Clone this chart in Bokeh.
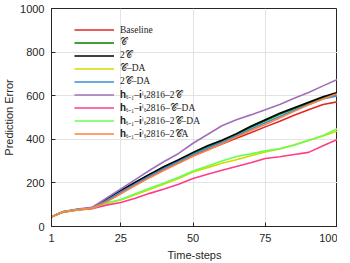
from bokeh.plotting import figure
from bokeh.models import Legend, LegendItem, FixedTicker, ColumnDataSource
from bokeh.embed import file_html
from bokeh.resources import INLINE

x = [1, 5, 10, 15, 20, 25, 30, 35, 40, 45, 50, 55, 60, 65, 70, 75, 80, 85, 90, 95, 100]

baseline = [45, 66, 77, 84, 115, 155, 192, 228, 262, 292, 325, 352, 378, 405, 430, 457, 483, 510, 535, 560, 572]
c_ser    = [45, 67, 78, 85, 122, 162, 200, 236, 270, 302, 335, 365, 392, 422, 455, 485, 515, 540, 565, 590, 605]
two_c    = [45, 68, 78, 85, 125, 165, 203, 240, 275, 306, 340, 370, 396, 426, 460, 490, 520, 545, 570, 595, 615]
c_da     = [45, 66, 76, 83, 105, 122, 146, 170, 195, 220, 250, 270, 290, 306, 325, 342, 356, 375, 395, 415, 438]
two_c_da = [45, 67, 77, 84, 120, 158, 195, 232, 266, 298, 330, 360, 386, 415, 447, 476, 505, 533, 560, 585, 600]
h_2c     = [45, 69, 80, 88, 130, 172, 215, 258, 298, 335, 382, 422, 462, 490, 512, 536, 560, 588, 615, 645, 675]
h_c_da   = [45, 66, 76, 82, 98, 110, 130, 152, 172, 194, 220, 240, 258, 275, 292, 312, 320, 330, 340, 370, 400]
h_2c_da  = [45, 67, 77, 84, 108, 124, 150, 175, 200, 226, 255, 278, 300, 321, 333, 347, 357, 373, 395, 417, 449]
h_2ca    = [45, 66, 76, 83, 112, 150, 188, 224, 258, 290, 322, 350, 380, 410, 440, 468, 498, 528, 558, 585, 609]

labels = ["Baseline", "𝒞", "2𝒞", "𝒞–DA", "2𝒞–DA",
          "𝐡ₜ₋₁–𝐢ⁱₜ2816–2𝒞", "𝐡ₜ₋₁–𝐢ⁱₜ2816–𝒞–DA",
          "𝐡ₜ₋₁–𝐢ⁱₜ2816–2𝒞–DA", "𝐡ₜ₋₁–𝐢ⁱₜ2816–2𝒞A"]
series = [baseline, c_ser, two_c, c_da, two_c_da, h_2c, h_c_da, h_2c_da, h_2ca]
colors = ["#e02828", "#008000", "#000000", "#d8d800", "#3a90d6",
          "#a070b8", "#ff3c8c", "#66ff55", "#ff8040"]

x_ticks = [1, 25, 50, 75, 100]
y_ticks = [0, 200, 400, 600, 800, 1000]

p = figure(frame_width=286, frame_height=218, output_backend="svg", toolbar_location=None,
           x_range=(1, 100), y_range=(0, 1000),
           min_border_left=40, min_border_right=0, min_border_top=8, min_border_bottom=0)

axis_color = "#262626"
p.xaxis.ticker = FixedTicker(ticks=x_ticks)
p.yaxis.ticker = FixedTicker(ticks=y_ticks)
for ax in (p.xaxis[0], p.yaxis[0]):
    ax.axis_line_color = axis_color
    ax.axis_line_width = 1
    ax.major_tick_line_color = axis_color
    ax.major_tick_in = 4
    ax.major_tick_out = 0
    ax.minor_tick_line_color = None
    ax.major_label_text_font = "Liberation Sans"
    ax.major_label_text_font_size = "11px"
    ax.major_label_text_color = axis_color
    ax.axis_label_text_font = "Liberation Sans"
    ax.axis_label_text_font_size = "11px"
    ax.axis_label_text_font_style = "normal"
    ax.axis_label_text_color = axis_color
p.xaxis.axis_label = "Time-steps"
p.yaxis.axis_label = "Prediction Error"
p.xaxis.major_label_standoff = 7
p.xaxis.axis_label_standoff = 4
p.yaxis.major_label_standoff = 7
p.yaxis.axis_label_standoff = 2

p.xgrid.grid_line_color = "#e3e3e3"
p.ygrid.grid_line_color = "#e3e3e3"
p.outline_line_color = axis_color

items = []
for lab, ys, col in zip(labels, series, colors):
    src = ColumnDataSource(dict(x=x, y=ys))
    r = p.line("x", "y", source=src, line_color=col, line_width=1.6)
    items.append(LegendItem(label=lab, renderers=[r]))

legend = Legend(items=items, location=(23, 86))
legend.background_fill_alpha = 0
legend.border_line_color = None
legend.label_text_font = "Liberation Serif"
legend.label_text_font_size = "9.5px"
legend.label_text_color = "#222222"
legend.glyph_width = 40
legend.glyph_height = 13
legend.label_height = 13
legend.spacing = 0
legend.padding = 0
legend.margin = 0
legend.label_standoff = 6
p.add_layout(legend, "center")

open("out.html", "w").write(file_html(p, INLINE))
